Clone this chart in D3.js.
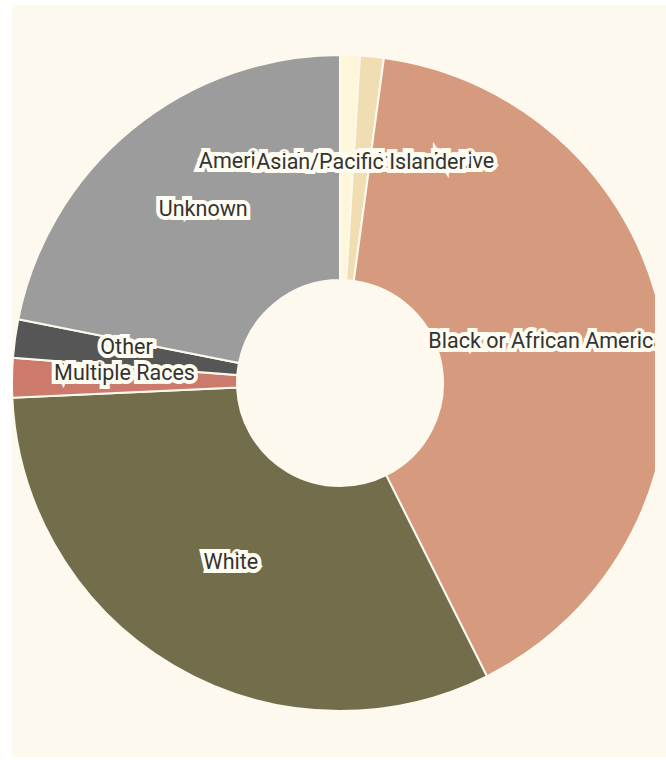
<!DOCTYPE html>
<html>
  <head>
    <meta charset="utf-8">
    <title>Race breakdown</title>
    <script src="https://cdn.jsdelivr.net/npm/d3@7"></script>
    <style>
      body { margin: 0; background: #ffffff; }
      #container {
        position: absolute;
        left: 12px;
        top: 5px;
        width: 654px;
        height: 752px;
        background: #fdf9ee;
      }
      #chart { display: block; overflow: hidden; }
      .label {
        font-family: Roboto, "Noto Sans", sans-serif;
        font-size: 21.5px;
        fill: #333333;
        stroke: #fffcf1;
        stroke-width: 8px;
        stroke-linejoin: miter;
        stroke-miterlimit: 6;
        paint-order: stroke;
        text-anchor: middle;
      }
    </style>
  </head>
  <body>
    <div id="container">
      <svg id="chart"></svg>
    </div>
    <script>
      // data (share of total, %)
      let categories = ["American Indian/Alaska Native", "Asian/Pacific Islander", "Black or African American",
        "White", "Multiple Races", "Other", "Unknown"];
      let shares = [0.97, 1.17, 40.5, 31.7, 1.94, 1.89, 21.9];
      let colours = ["#fdf6d8", "#f1ddb2", "#d69b7f", "#726d4b", "#cc7a6b", "#565656", "#9c9c9c"];

      let width = 643,
        height = 752,
        cx = 328,
        cy = 378,
        outer = 328,
        inner = 103;

      let data = categories.map(function(c, i) {
        return { name: c, value: shares[i], colour: colours[i] };
      });

      let chart = d3.select("#chart")
        .attr("width", width)
        .attr("height", height);

      let pie = d3.pie()
        .sort(null)
        .value(function(d) { return d.value; });
      let arc = d3.arc()
        .innerRadius(inner)
        .outerRadius(outer);

      let arcs = pie(data);

      let g = chart.append("g")
        .attr("transform", "translate(" + cx + "," + cy + ")");

      g.selectAll(".slice")
          .data(arcs)
        .enter().append("path")
          .classed("slice", true)
          .attr("d", arc)
          .attr("fill", function(d) { return d.data.colour; })
          .attr("stroke", "#fdf9ee")
          .attr("stroke-width", 2);

      g.selectAll(".label")
          .data(arcs)
        .enter().append("text")
          .classed("label", true)
          .attr("x", function(d) { return arc.centroid(d)[0]; })
          .attr("y", function(d) { return arc.centroid(d)[1]; })
          .text(function(d) { return d.data.name; });
    </script>
  </body>
</html>
